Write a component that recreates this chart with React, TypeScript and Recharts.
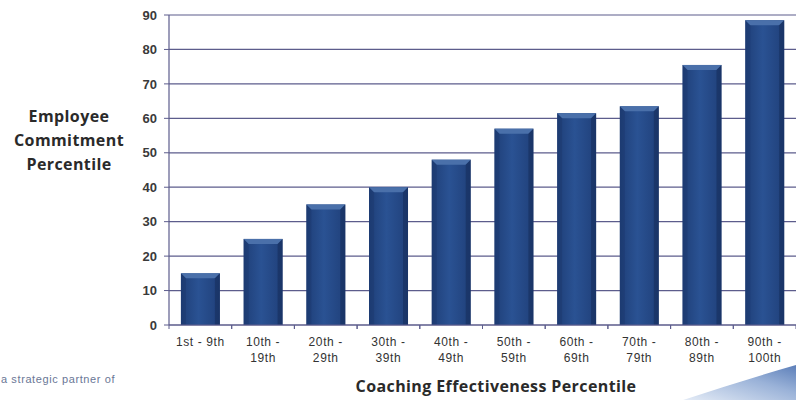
import { Bar, BarChart, CartesianGrid, XAxis, YAxis } from "recharts";

const CATEGORIES = [
  "1st - 9th",
  "10th -\n19th",
  "20th -\n29th",
  "30th -\n39th",
  "40th -\n49th",
  "50th -\n59th",
  "60th -\n69th",
  "70th -\n79th",
  "80th -\n89th",
  "90th -\n100th",
];
const COMMITMENT = [15, 25, 35, 40, 48, 57, 61.5, 63.5, 75.5, 88.5];
const Y_TICKS = [0, 10, 20, 30, 40, 50, 60, 70, 80, 90];

const W = 796;
const H = 400;
const Y_AXIS_W = 169;
const X_AXIS_H = 75;
const HALF_BAND = (W - Y_AXIS_W) / CATEGORIES.length / 2;

const NAVY_LINE = "#5c5c8c";

const data = CATEGORIES.map((c, i) => ({ cat: c, value: COMMITMENT[i] }));

function XTick(props: any) {
  const { x, y, payload } = props;
  const lines = String(payload.value).split("\n");
  return (
    <g>
      <line x1={x - HALF_BAND} x2={x - HALF_BAND} y1={y} y2={y + 4} stroke={NAVY_LINE} />
      <line x1={x + HALF_BAND} x2={x + HALF_BAND} y1={y} y2={y + 4} stroke={NAVY_LINE} />
      {lines.map((l, i) => (
        <text
          key={i}
          x={x}
          y={y + 21 + i * 16}
          textAnchor="middle"
          fontSize={12}
          letterSpacing={0.6}
          fontFamily="Liberation Sans, Arial, sans-serif"
          fill="#333333"
        >
          {l}
        </text>
      ))}
    </g>
  );
}

// bevelled column like the old Excel style
function BevelBar(props: any) {
  const { x, y, width, height } = props;
  if (!height || height <= 0) return null;
  const b = Math.min(5, height / 2);
  return (
    <g>
      <rect x={x} y={y} width={width} height={height} fill="url(#barBody)" />
      <polygon
        points={`${x},${y} ${x + width},${y} ${x + width - b},${y + b} ${x + b},${y + b}`}
        fill="#4a70aa"
      />
      <polygon
        points={`${x},${y} ${x + b},${y + b} ${x + b},${y + height} ${x},${y + height}`}
        fill="#1a3566"
        opacity={0.35}
      />
      <polygon
        points={`${x + width},${y} ${x + width - b},${y + b} ${x + width - b},${y + height} ${x + width},${y + height}`}
        fill="#132a55"
        opacity={0.5}
      />
    </g>
  );
}

const titleFont = {
  fontFamily: "'Open Sans', sans-serif",
  fontWeight: 700,
  fontSize: 16,
  letterSpacing: 0.4,
  color: "#2a2a2a",
};

export default function App() {
  return (
    <div
      style={{
        position: "absolute",
        left: 0,
        top: 0,
        width: W,
        height: H,
        background: "#ffffff",
        overflow: "hidden",
      }}
    >
      <BarChart
        width={W}
        height={H}
        data={data}
        margin={{ top: 15, right: 0, left: 0, bottom: 0 }}
        barCategoryGap="19%"
      >
        <defs>
          <linearGradient id="barBody" x1="0" y1="0" x2="1" y2="0">
            <stop offset="0%" stopColor="#1f3f78" />
            <stop offset="45%" stopColor="#2a5293" />
            <stop offset="100%" stopColor="#20407a" />
          </linearGradient>
        </defs>
        <CartesianGrid vertical={false} stroke={NAVY_LINE} strokeWidth={1.2} />
        <XAxis
          dataKey="cat"
          height={X_AXIS_H}
          tick={<XTick />}
          tickLine={false}
          tickSize={0}
          tickMargin={0}
          interval={0}
          axisLine={{ stroke: NAVY_LINE, strokeWidth: 1.2 }}
        />
        <YAxis
          width={Y_AXIS_W}
          domain={[0, 90]}
          ticks={Y_TICKS}
          interval={0}
          tickSize={5}
          tickMargin={7}
          tickLine={{ stroke: NAVY_LINE }}
          axisLine={{ stroke: NAVY_LINE, strokeWidth: 1.2 }}
          tick={{
            fill: "#3a3a3a",
            fontSize: 13,
            fontWeight: "bold",
            fontFamily: "Liberation Sans, Arial, sans-serif",
          }}
        />
        <Bar dataKey="value" shape={<BevelBar />} isAnimationActive={false} />
      </BarChart>

      <div
        style={{
          ...titleFont,
          position: "absolute",
          left: 0,
          top: 104,
          width: 138,
          textAlign: "center",
          lineHeight: "24px",
        }}
      >
        Employee
        <br />
        Commitment
        <br />
        Percentile
      </div>

      <div
        style={{
          ...titleFont,
          position: "absolute",
          left: 296,
          top: 375,
          width: 400,
          textAlign: "center",
        }}
      >
        Coaching Effectiveness Percentile
      </div>

      <div
        style={{
          position: "absolute",
          left: 1,
          top: 373,
          fontFamily: "Liberation Sans, Arial, sans-serif",
          fontSize: 11,
          letterSpacing: 0.6,
          color: "#6a7796",
        }}
      >
        a strategic partner of
      </div>

      <svg style={{ position: "absolute", left: 620, top: 350 }} width={176} height={50}>
        <defs>
          <linearGradient id="swoosh" x1="0" y1="1" x2="1" y2="0">
            <stop offset="0%" stopColor="#e6edf7" />
            <stop offset="60%" stopColor="#9ab2d8" />
            <stop offset="100%" stopColor="#5a7db8" />
          </linearGradient>
        </defs>
        <path d="M60,50 Q120,30 176,14 L176,50 Z" fill="url(#swoosh)" />
        <path d="M60,50 Q120,30 176,14" stroke="#ffffff" strokeWidth={2} fill="none" />
      </svg>
    </div>
  );
}
